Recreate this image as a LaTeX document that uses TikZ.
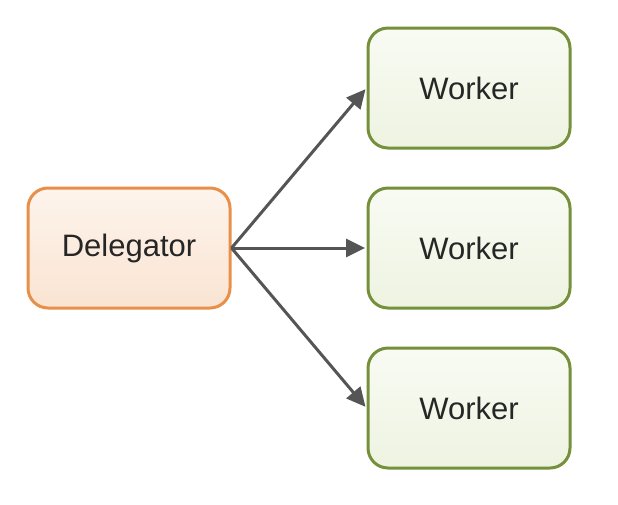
\documentclass[tikz,border=0pt]{standalone}
\usepackage{fontspec}
\setmainfont{Liberation Sans}
\usetikzlibrary{arrows.meta,shadings}
\definecolor{delborder}{HTML}{E8904A}
\definecolor{deltop}{HTML}{FDF4EC}
\definecolor{delbot}{HTML}{FAE4D2}
\definecolor{wkborder}{HTML}{74903C}
\definecolor{wktop}{HTML}{F9FBF3}
\definecolor{wkbot}{HTML}{EEF3E1}
\definecolor{arrowgray}{HTML}{555555}
\begin{document}
\begin{tikzpicture}[x=1pt,y=-1pt,
  boxbase/.style={rounded corners=20pt, line width=3pt, minimum width=202pt, minimum height=120pt, inner sep=0pt,
    font=\fontsize{31}{34}\selectfont, text=black!85},
  delbox/.style={boxbase, draw=delborder, top color=deltop, bottom color=delbot},
  wkbox/.style={boxbase, draw=wkborder, top color=wktop, bottom color=wkbot},
  conn/.style={draw=arrowgray, line width=3pt, -{Triangle[length=19pt,width=18pt]}, shorten >=1.5pt}]
\useasboundingbox (0,0) rectangle (618,504);
\node[delbox] (d) at (129,248) {Delegator};
\node[wkbox] (w1) at (469,88) {Worker};
\node[wkbox] (w2) at (469,248) {Worker};
\node[wkbox] (w3) at (469,408) {Worker};
\draw[conn] (d.east) -- (w1.west);
\draw[conn] (d.east) -- (w2.west);
\draw[conn] (d.east) -- (w3.west);
\end{tikzpicture}
\end{document}
